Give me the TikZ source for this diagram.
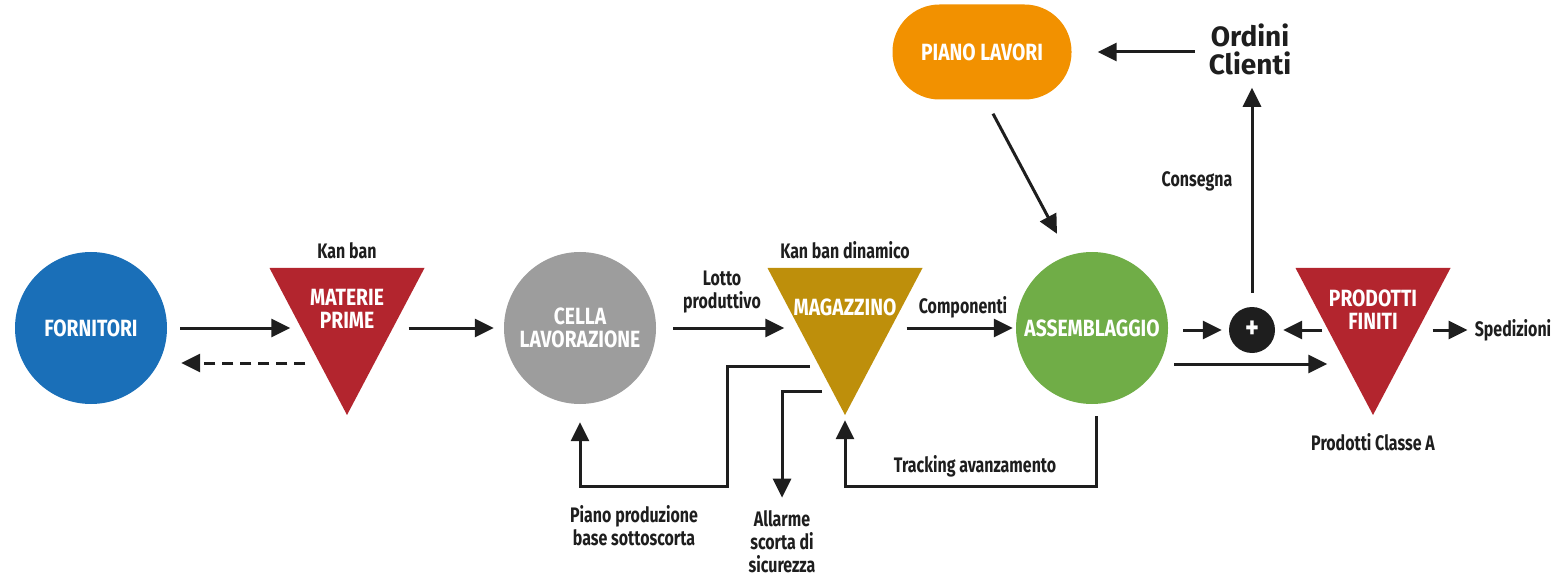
\documentclass[tikz,border=0pt]{standalone}
\usepackage{fontspec}
\setmainfont{Fira Sans}[FakeStretch=0.82]
\newfontfamily\lblff{Fira Sans}[FakeStretch=0.76]
\newfontfamily\wideff{Fira Sans}
\usetikzlibrary{positioning,calc,arrows.meta}

\definecolor{fornblue}{HTML}{1A6FB8}
\definecolor{stockred}{HTML}{B3252E}
\definecolor{cellgray}{HTML}{9D9D9D}
\definecolor{magold}{HTML}{BE8F0B}
\definecolor{assgreen}{HTML}{70AD47}
\definecolor{planorange}{HTML}{F29100}
\definecolor{ink}{HTML}{1E1E1E}

\begin{document}
\begin{tikzpicture}[x=1pt, y=1pt, node distance=250pt,
every node/.style={font=\bfseries\fontsize{23.5}{23}\selectfont, align=center, inner sep=1pt},
circ/.style={circle, fill=#1, text=white, minimum size=152pt},
tri/.style={fill=white, minimum width=155pt, minimum height=147pt, inner sep=0pt,
  path picture={\fill[#1] (path picture bounding box.north west)
    -- (path picture bounding box.north east)
    -- (path picture bounding box.south) -- cycle;}},
tritext/.style={text=white},
lbl/.style={text=ink, font=\lblff\bfseries\fontsize{21}{23}\selectfont},
flow/.style={draw=ink, line width=3pt, -{Triangle[length=19pt,width=18pt]}}]

\useasboundingbox (0,0) rectangle (1562,579);

\node (forn) [circ=fornblue] at (91,251) {FORNITORI};
\node (mat) [tri=stockred, right of=forn, xshift=6pt, yshift=-13.5pt,
  label={[tritext, yshift=32.5pt]center:{MATERIE\\PRIME}}] {};
\node (cella) [circ=cellgray, right of=mat, xshift=-17pt, yshift=13.5pt] {CELLA\\LAVORAZIONE};
\node (mag) [tri=magold, right of=cella, xshift=15pt, yshift=-13.5pt,
  label={[tritext, yshift=34.5pt]center:MAGAZZINO}] {};
\node (assem) [circ=assgreen, right of=mag, xshift=-3pt, yshift=13.5pt] {ASSEMBLAGGIO};
\node (plus) [circle, fill=ink, text=white, minimum size=46pt, inner sep=0pt,
  font=\bfseries\fontsize{32}{32}\selectfont,
  right of=assem, xshift=-90pt, yshift=-2pt] {+};
\node (prod) [tri=stockred, right of=plus, xshift=-129pt, yshift=-11.5pt,
  label={[tritext, yshift=32pt]center:{PRODOTTI\\FINITI}}] {};
\node (piano) [fill=planorange, text=white, rounded corners=47pt, minimum width=179pt,
  minimum height=95pt, above of=assem, xshift=-110pt, yshift=26pt] {PIANO LAVORI};
\node (ordini) [lbl, font=\wideff\bfseries\fontsize{28}{28}\selectfont,
  right of=piano, xshift=18pt, yshift=3pt] {Ordini\\Clienti};

\node (kb) [lbl, above=8pt of mat] {Kan ban};
\node (kbd) [lbl, above=8pt of mag] {Kan ban dinamico};
\node (lotto) [lbl] at (722,287) {Lotto\\produttivo};
\node (comp) [lbl] at (963,272) {Componenti};
\node (cons) [lbl] at (1197,398) {Consegna};
\node (track) [lbl] at (975,113) {Tracking avanzamento};
\node (pprod) [lbl] at (634,53) {Piano produzione\\base sottoscorta};
\node (allarme) [lbl] at (782,37) {Allarme\\scorta di\\sicurezza};
\node (classa) [lbl, below=17pt of prod] {Prodotti Classe A};
\node (sped) [lbl] at (1513,249) {Spedizioni};

\draw[flow] ([xshift=13pt]forn.east) -- ($(forn.east -| mat.west)+(21,0)$);
\draw[flow, dash pattern=on 11pt off 7pt] ($(forn.east -| mat.west)+(36,-35)$) -- ([xshift=14pt,yshift=-35pt]forn.east);
\draw[flow] ($(cella.west -| mat.east)+(-16,0)$) -- ([xshift=-10pt]cella.west);
\draw[flow] ([xshift=17pt]cella.east) -- ($(cella.east -| mag.west)+(17,0)$);
\draw[flow] ($(assem.west -| mag.east)+(-16,0)$) -- ([xshift=-3pt]assem.west);
\draw[flow] ($(plus.west -| assem.east)+(15,0)$) -- ([xshift=-7pt]plus.west);
\draw[flow] ($(plus.east -| prod.west)+(27,0)$) -- ([xshift=8pt]plus.east);
\draw[flow] ([xshift=6pt,yshift=-36pt]assem.east) -- ($(assem.east -| prod.west)+(32,-36)$);
\draw[flow] ($(sped.west -| prod.east)+(-18,0)$) -- ([xshift=-6pt]sped.west);
\draw[flow] ([yshift=14pt]plus.north) -- ($(plus.north |- ordini.south)+(0,-12)$);
\draw[flow] ($(piano.east -| ordini.west)+(-13,0)$) -- ([xshift=26pt]piano.east);
\draw[flow] ([xshift=11pt,yshift=-14pt]piano.south) -- ([xshift=-35pt,yshift=18pt]assem.north);

% feedback loops
\draw[flow] ([xshift=-35pt,yshift=-24.5pt]mag.center) -- ++(-83,0) -- ++(0,-120) -| ([yshift=-18pt]cella.south);
\draw[flow] ([xshift=-23pt,yshift=-49.5pt]mag.center) -| ([yshift=12pt]allarme.north);
\draw[flow] ([xshift=4pt,yshift=-12pt]assem.south) -- ++(0,-70) -| ([yshift=-5pt]mag.south);

\end{tikzpicture}
\end{document}
